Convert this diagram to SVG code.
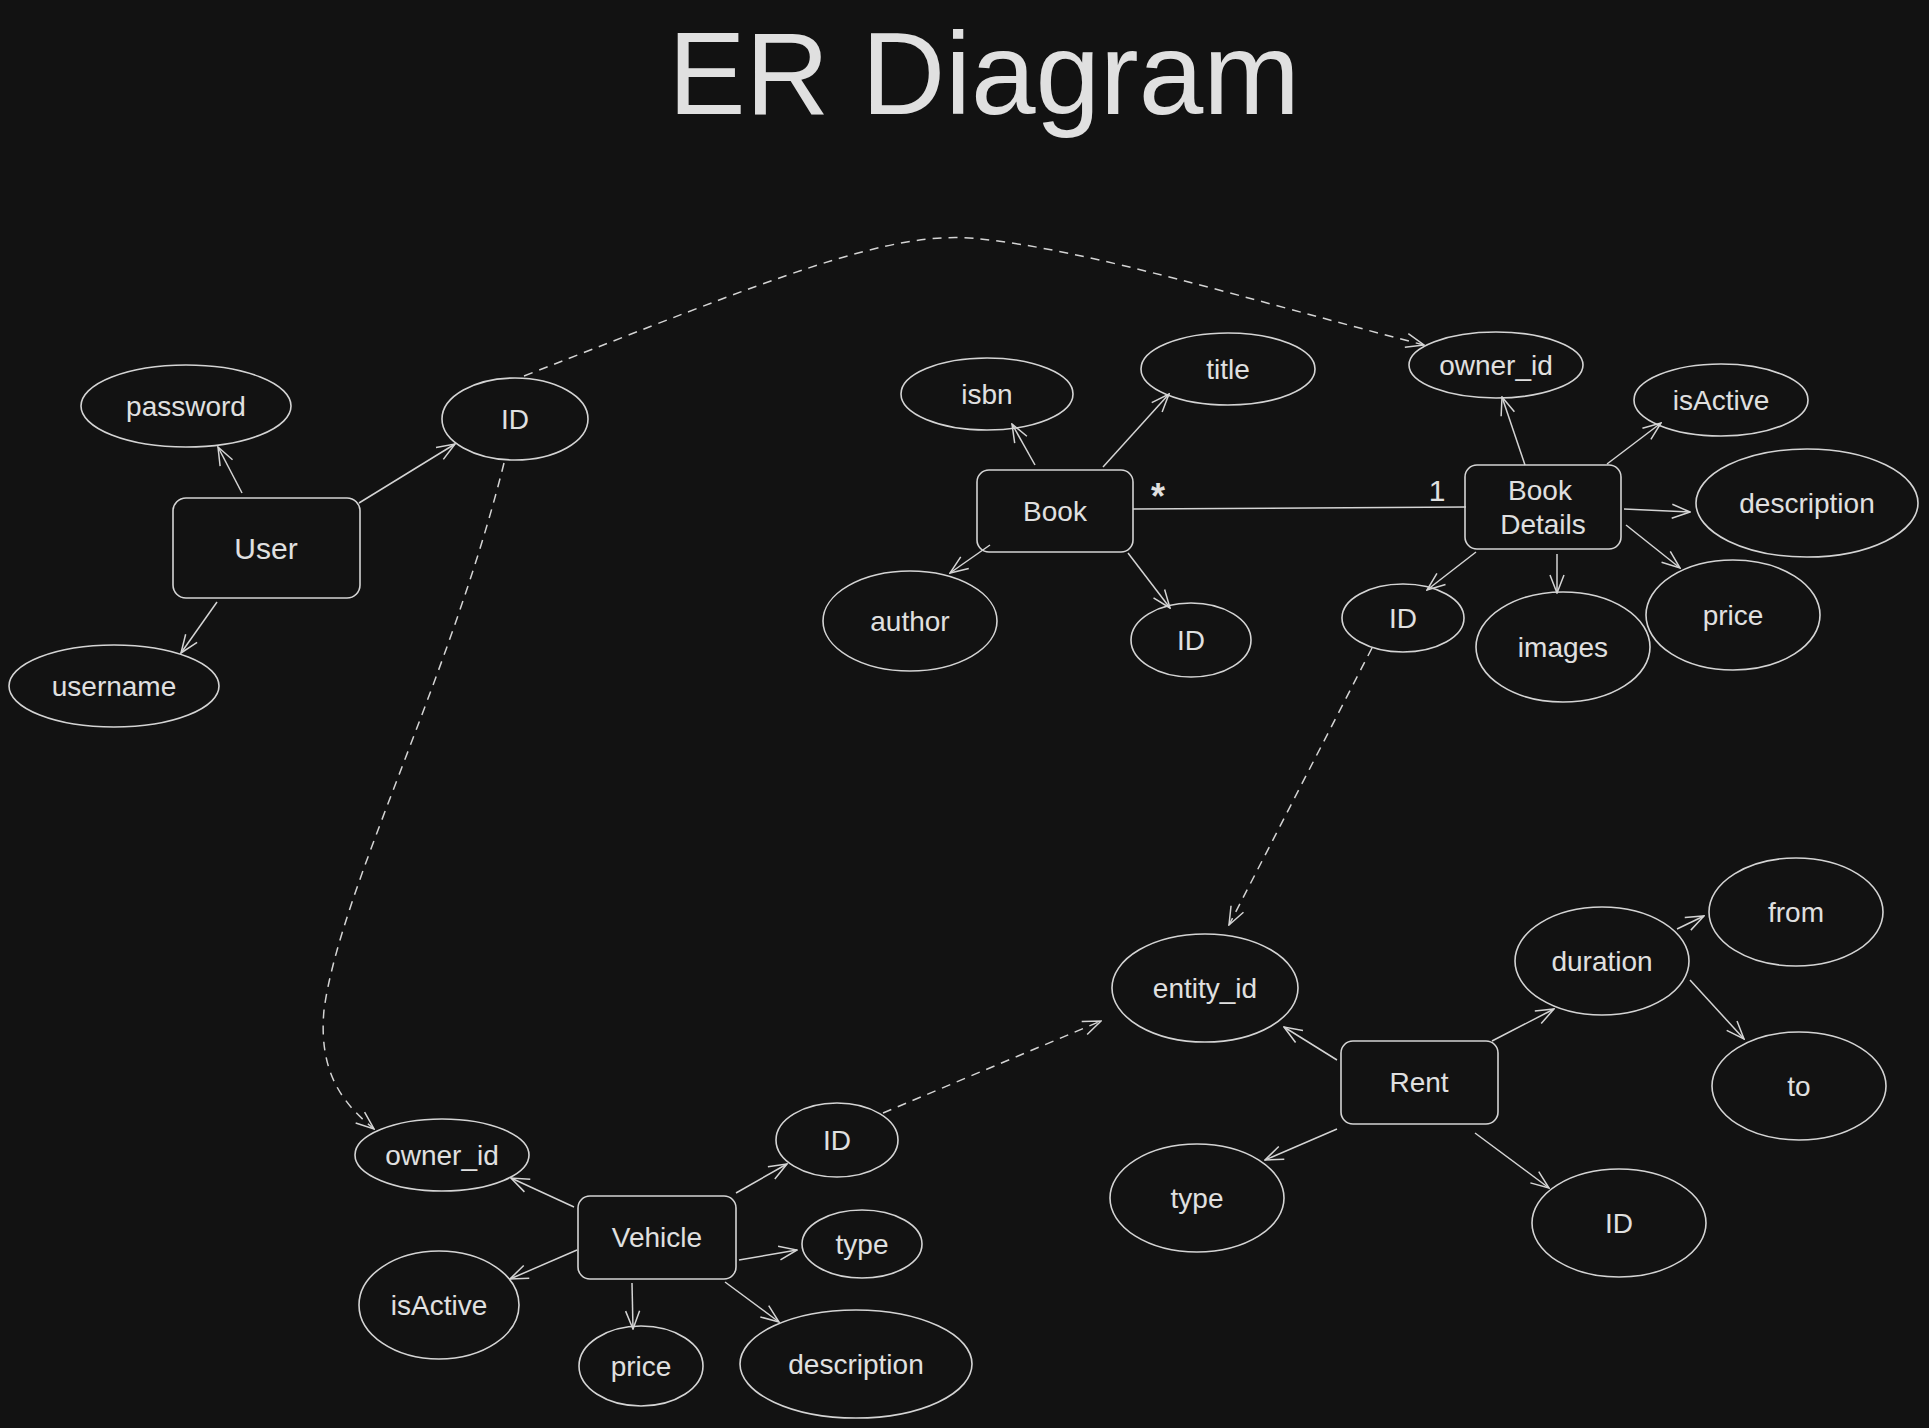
<svg xmlns="http://www.w3.org/2000/svg" width="1929" height="1428" viewBox="0 0 1929 1428">
<style>
.bg{fill:#121212}
.n{fill:none;stroke:#d4d4d4;stroke-width:1.6}
.c{fill:none;stroke:#d4d4d4;stroke-width:1.5}
.d{fill:none;stroke:#d4d4d4;stroke-width:1.5;stroke-dasharray:9 7}
text{font-family:"Liberation Sans",Arial,sans-serif;fill:#e0e0e0;text-anchor:middle;dominant-baseline:central}
.t{font-size:28px}
.e{font-size:30px}
.star{font-size:36px;font-weight:bold}
.title{font-size:116px;dominant-baseline:alphabetic}
</style>
<defs>
<marker id="ah" viewBox="0 0 20 20" refX="19" refY="10" markerWidth="20" markerHeight="20" markerUnits="userSpaceOnUse" orient="auto">
<path d="M1,3 L19,10 L1,17" fill="none" stroke="#d4d4d4" stroke-width="1.5"/>
</marker>
</defs>
<rect class="bg" x="0" y="0" width="1929" height="1428"/>
<text class="title" x="984" y="114">ER Diagram</text>

<g id="connectors">
<!-- User -->
<line class="c" x1="242" y1="493" x2="218" y2="447" marker-end="url(#ah)"/>
<line class="c" x1="359" y1="503" x2="455" y2="444" marker-end="url(#ah)"/>
<line class="c" x1="217" y1="602" x2="181" y2="653" marker-end="url(#ah)"/>
<!-- dashed -->
<path class="d" d="M524,376 C770,280 890,228 980,239 C1090,250 1250,300 1424,345" marker-end="url(#ah)"/>
<path class="d" d="M504,463 C450,680 340,890 324,1010 C318,1075 345,1105 374,1129" marker-end="url(#ah)"/>
<path class="d" d="M1372,648 L1229,925" marker-end="url(#ah)"/>
<path class="d" d="M883,1113 L1101,1021" marker-end="url(#ah)"/>
<!-- Book -->
<line class="c" x1="1035" y1="465" x2="1012" y2="424" marker-end="url(#ah)"/>
<line class="c" x1="1103" y1="467" x2="1169" y2="394" marker-end="url(#ah)"/>
<line class="c" x1="990" y1="545" x2="950" y2="573" marker-end="url(#ah)"/>
<line class="c" x1="1128" y1="553" x2="1170" y2="608" marker-end="url(#ah)"/>
<line class="c" x1="1133" y1="509" x2="1466" y2="507"/>
<!-- Book Details -->
<line class="c" x1="1525" y1="465" x2="1502" y2="397" marker-end="url(#ah)"/>
<line class="c" x1="1607" y1="464" x2="1661" y2="423" marker-end="url(#ah)"/>
<line class="c" x1="1624" y1="509" x2="1690" y2="512" marker-end="url(#ah)"/>
<line class="c" x1="1626" y1="525" x2="1680" y2="568" marker-end="url(#ah)"/>
<line class="c" x1="1557" y1="554" x2="1557" y2="593" marker-end="url(#ah)"/>
<line class="c" x1="1476" y1="552" x2="1427" y2="590" marker-end="url(#ah)"/>
<!-- Rent -->
<line class="c" x1="1337" y1="1060" x2="1284" y2="1027" marker-end="url(#ah)"/>
<line class="c" x1="1492" y1="1041" x2="1554" y2="1009" marker-end="url(#ah)"/>
<line class="c" x1="1677" y1="929" x2="1704" y2="916" marker-end="url(#ah)"/>
<line class="c" x1="1690" y1="980" x2="1744" y2="1039" marker-end="url(#ah)"/>
<line class="c" x1="1337" y1="1129" x2="1265" y2="1160" marker-end="url(#ah)"/>
<line class="c" x1="1475" y1="1133" x2="1549" y2="1188" marker-end="url(#ah)"/>
<!-- Vehicle -->
<line class="c" x1="574" y1="1207" x2="511" y2="1178" marker-end="url(#ah)"/>
<line class="c" x1="736" y1="1193" x2="787" y2="1164" marker-end="url(#ah)"/>
<line class="c" x1="739" y1="1260" x2="797" y2="1250" marker-end="url(#ah)"/>
<line class="c" x1="725" y1="1282" x2="779" y2="1322" marker-end="url(#ah)"/>
<line class="c" x1="632" y1="1283" x2="633" y2="1329" marker-end="url(#ah)"/>
<line class="c" x1="577" y1="1250" x2="510" y2="1279" marker-end="url(#ah)"/>
<text class="star" x="1158" y="496">*</text>
<text class="e" x="1437" y="490">1</text>
</g>

<g id="user"><rect class="n" x="173" y="498" width="187" height="100" rx="13"/><text class="e" x="266" y="548">User</text></g>
<g id="user-password"><ellipse class="n" cx="186" cy="406" rx="105" ry="41"/><text class="t" x="186" y="406">password</text></g>
<g id="user-id"><ellipse class="n" cx="515" cy="419" rx="73" ry="41"/><text class="t" x="515" y="419">ID</text></g>
<g id="user-username"><ellipse class="n" cx="114" cy="686" rx="105" ry="41"/><text class="t" x="114" y="686">username</text></g>

<g id="book"><rect class="n" x="977" y="470" width="156" height="82" rx="12"/><text class="t" x="1055" y="511">Book</text></g>
<g id="book-isbn"><ellipse class="n" cx="987" cy="394" rx="86" ry="36"/><text class="t" x="987" y="394">isbn</text></g>
<g id="book-title"><ellipse class="n" cx="1228" cy="369" rx="87" ry="36"/><text class="t" x="1228" y="369">title</text></g>
<g id="book-author"><ellipse class="n" cx="910" cy="621" rx="87" ry="50"/><text class="t" x="910" y="621">author</text></g>
<g id="book-id"><ellipse class="n" cx="1191" cy="640" rx="60" ry="37"/><text class="t" x="1191" y="640">ID</text></g>

<g id="book-details"><rect class="n" x="1465" y="465" width="156" height="84" rx="12"/><text class="t" x="1540" y="490">Book</text><text class="t" x="1543" y="524">Details</text></g>
<g id="bd-owner-id"><ellipse class="n" cx="1496" cy="365" rx="87" ry="33"/><text class="t" x="1496" y="365">owner_id</text></g>
<g id="bd-isactive"><ellipse class="n" cx="1721" cy="400" rx="87" ry="36"/><text class="t" x="1721" y="400">isActive</text></g>
<g id="bd-description"><ellipse class="n" cx="1807" cy="503" rx="111" ry="54"/><text class="t" x="1807" y="503">description</text></g>
<g id="bd-price"><ellipse class="n" cx="1733" cy="615" rx="87" ry="55"/><text class="t" x="1733" y="615">price</text></g>
<g id="bd-images"><ellipse class="n" cx="1563" cy="647" rx="87" ry="55"/><text class="t" x="1563" y="647">images</text></g>
<g id="bd-id"><ellipse class="n" cx="1403" cy="618" rx="61" ry="34"/><text class="t" x="1403" y="618">ID</text></g>

<g id="rent"><rect class="n" x="1341" y="1041" width="157" height="83" rx="12"/><text class="t" x="1419" y="1082">Rent</text></g>
<g id="rent-entity-id"><ellipse class="n" cx="1205" cy="988" rx="93" ry="54"/><text class="t" x="1205" y="988">entity_id</text></g>
<g id="rent-duration"><ellipse class="n" cx="1602" cy="961" rx="87" ry="54"/><text class="t" x="1602" y="961">duration</text></g>
<g id="rent-from"><ellipse class="n" cx="1796" cy="912" rx="87" ry="54"/><text class="t" x="1796" y="912">from</text></g>
<g id="rent-to"><ellipse class="n" cx="1799" cy="1086" rx="87" ry="54"/><text class="t" x="1799" y="1086">to</text></g>
<g id="rent-type"><ellipse class="n" cx="1197" cy="1198" rx="87" ry="54"/><text class="t" x="1197" y="1198">type</text></g>
<g id="rent-id"><ellipse class="n" cx="1619" cy="1223" rx="87" ry="54"/><text class="t" x="1619" y="1223">ID</text></g>

<g id="vehicle"><rect class="n" x="578" y="1196" width="158" height="83" rx="12"/><text class="t" x="657" y="1237">Vehicle</text></g>
<g id="vehicle-owner-id"><ellipse class="n" cx="442" cy="1155" rx="87" ry="36"/><text class="t" x="442" y="1155">owner_id</text></g>
<g id="vehicle-id"><ellipse class="n" cx="837" cy="1140" rx="61" ry="37"/><text class="t" x="837" y="1140">ID</text></g>
<g id="vehicle-type"><ellipse class="n" cx="862" cy="1244" rx="60" ry="34"/><text class="t" x="862" y="1244">type</text></g>
<g id="vehicle-description"><ellipse class="n" cx="856" cy="1364" rx="116" ry="54"/><text class="t" x="856" y="1364">description</text></g>
<g id="vehicle-price"><ellipse class="n" cx="641" cy="1366" rx="62" ry="40"/><text class="t" x="641" y="1366">price</text></g>
<g id="vehicle-isactive"><ellipse class="n" cx="439" cy="1305" rx="80" ry="54"/><text class="t" x="439" y="1305">isActive</text></g>
</svg>
